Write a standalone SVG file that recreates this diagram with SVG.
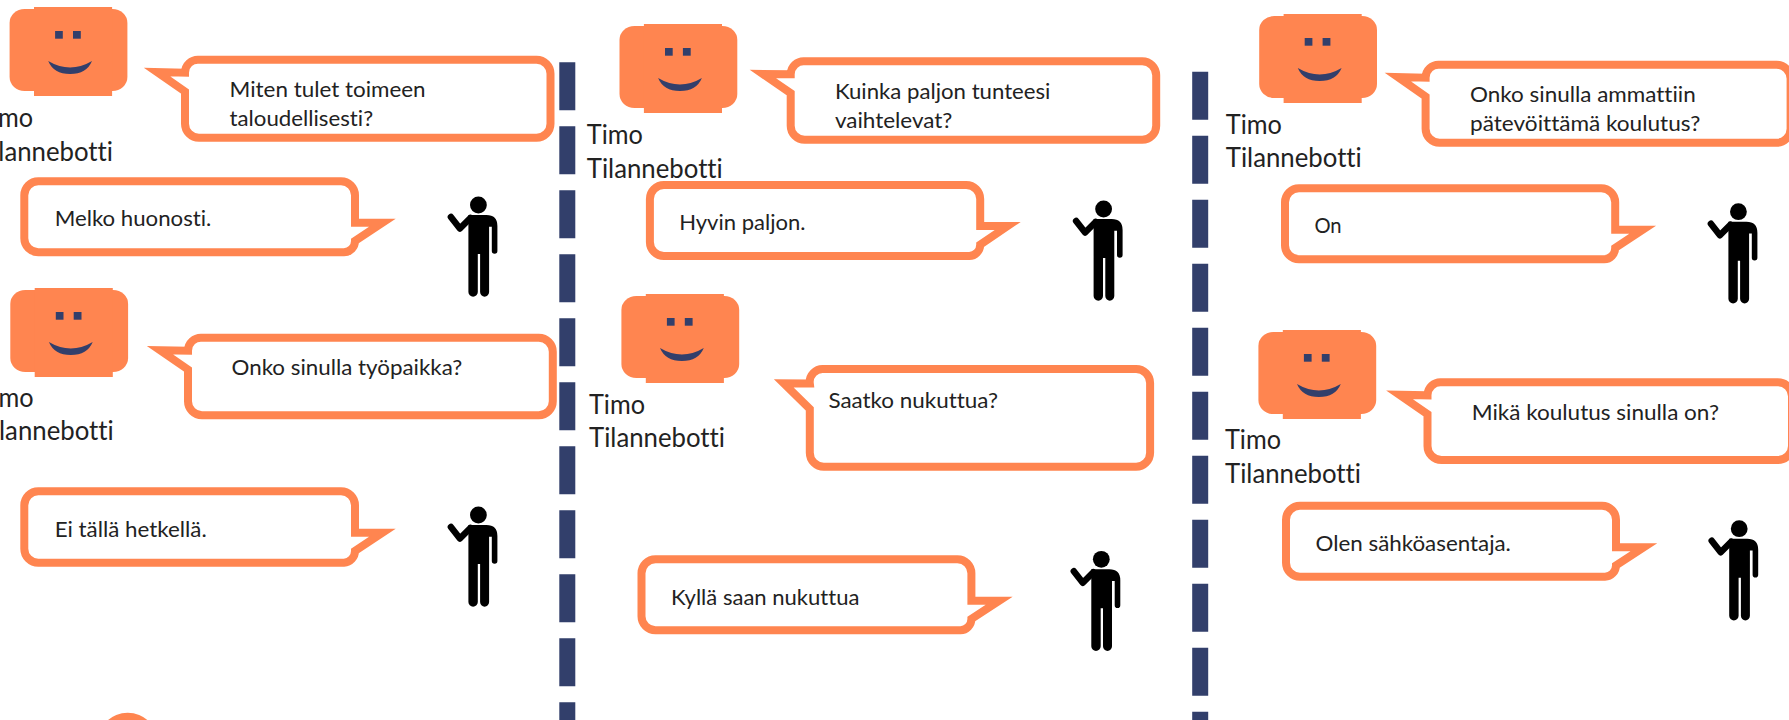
<svg xmlns="http://www.w3.org/2000/svg" width="1789" height="720" viewBox="0 0 1789 720">
<style>
text{font-family:"Lato","Open Sans","Liberation Sans",sans-serif;fill:#222;font-variant-ligatures:none}
.t{font-size:21.5px}
.n{font-size:26px}
.b{fill:#fff;stroke:#FF8550;stroke-width:8;stroke-linejoin:miter;stroke-miterlimit:12}
.d{stroke:#323F6B;stroke-width:16;stroke-dasharray:48 16;fill:none}
</style>
<defs>
<g id="bot">
<rect x="0" y="2" width="117.8" height="82" rx="15" ry="14" fill="#FF8550"/>
<rect x="24.4" y="0" width="78.1" height="89" fill="#FF8550"/>
<rect x="45.5" y="24" width="7.7" height="7.7" fill="#323F6B"/>
<rect x="63.4" y="24" width="7.8" height="7.7" fill="#323F6B"/>
<path d="M38.6 54Q60.5 67 82.4 54Q77 67 60.5 67Q44 67 38.6 54Z" fill="#323F6B"/>
</g>
<g id="person">
<circle cx="0" cy="0" r="8.4" fill="#000"/>
<path d="M-10 10H8Q19 10 19 21V46A2.8 2.8 0 0 1 13.4 46V21.7H10.7V87A4.5 4.7 0 0 1 1.7 87V49H-0.6V87A4.7 4.7 0 0 1 -10 87Z" fill="#000"/>
<polyline points="-27.5,12 -18.5,23.5 -8,13" fill="none" stroke="#000" stroke-width="6.5" stroke-linecap="round" stroke-linejoin="round"/>
</g>
</defs>
<rect width="1789" height="720" fill="#fff"/>
<g id="connectors">
<line class="d" x1="567.3" y1="62.3" x2="567.3" y2="720"/>
<line class="d" x1="1200.2" y1="71.7" x2="1200.2" y2="720"/>
</g>
<g id="bot-1"><use href="#bot" x="9.6" y="7"/><text class="n" x="-23" y="126.7" textLength="56" lengthAdjust="spacingAndGlyphs">Timo</text><text class="n" x="-23" y="161" textLength="136" lengthAdjust="spacingAndGlyphs">Tilannebotti</text></g>
<g id="bubble-1"><path class="b" d="M199 59.7H536.5A14 14 0 0 1 550.5 73.7V123.7A14 14 0 0 1 536.5 137.7H199A14 14 0 0 1 185 123.7V91.5L157 72L185 72.7A13 13 0 0 1 199 59.7Z"/><text class="t" x="229.6" y="96.7" textLength="196" lengthAdjust="spacingAndGlyphs">Miten tulet toimeen</text><text class="t" x="229.6" y="126" textLength="143.5" lengthAdjust="spacingAndGlyphs">taloudellisesti?</text></g>
<g id="bubble-2"><path class="b" d="M38.3 181.3H341A14 14 0 0 1 355 195.3V222.7H382.5L355 241A11.3 11.3 0 0 1 344 252.3H38.3A14 14 0 0 1 24.3 238.3V195.3A14 14 0 0 1 38.3 181.3Z"/><text class="t" x="54.7" y="226" textLength="156.6" lengthAdjust="spacingAndGlyphs">Melko huonosti.</text></g>
<g id="person-1"><use href="#person" x="478.4" y="205"/></g>
<g id="bot-2"><use href="#bot" x="10.3" y="288"/><text class="n" x="-22.3" y="406.7" textLength="56" lengthAdjust="spacingAndGlyphs">Timo</text><text class="n" x="-22.3" y="440" textLength="136" lengthAdjust="spacingAndGlyphs">Tilannebotti</text></g>
<g id="bubble-3"><path class="b" d="M202 337.7H538.8A14 14 0 0 1 552.8 351.7V401.3A14 14 0 0 1 538.8 415.3H202A14 14 0 0 1 188 401.3V369.5L160 350.3L188 350.7A13 13 0 0 1 202 337.7Z"/><text class="t" x="231.5" y="375" textLength="230.8" lengthAdjust="spacingAndGlyphs">Onko sinulla työpaikka?</text></g>
<g id="bubble-4"><path class="b" d="M38.3 491.3H341A14 14 0 0 1 355 505.3V532.7H382.5L355 551A11.7 11.7 0 0 1 344 562.7H38.3A14 14 0 0 1 24.3 548.7V505.3A14 14 0 0 1 38.3 491.3Z"/><text class="t" x="54.7" y="536.7" textLength="152" lengthAdjust="spacingAndGlyphs">Ei tällä hetkellä.</text></g>
<g id="person-2"><use href="#person" x="478.4" y="515"/></g>
<g id="bot-3"><circle cx="127.7" cy="742.7" r="30" fill="#FF8550"/></g>
<g id="bot-4"><use href="#bot" x="619.5" y="24"/><text class="n" x="586.8" y="144" textLength="56" lengthAdjust="spacingAndGlyphs">Timo</text><text class="n" x="586.8" y="177.7" textLength="136" lengthAdjust="spacingAndGlyphs">Tilannebotti</text></g>
<g id="bubble-5"><path class="b" d="M804.7 61.3H1142.2A14 14 0 0 1 1156.2 75.3V125.7A14 14 0 0 1 1142.2 139.7H804.7A14 14 0 0 1 790.7 125.7V93.1L762.8 74L790.7 74.3A13 13 0 0 1 804.7 61.3Z"/><text class="t" x="834.9" y="98.7" textLength="215.5" lengthAdjust="spacingAndGlyphs">Kuinka paljon tunteesi</text><text class="t" x="834.9" y="128" textLength="117.5" lengthAdjust="spacingAndGlyphs">vaihtelevat?</text></g>
<g id="bubble-6"><path class="b" d="M663.9 185H966.2A14 14 0 0 1 980.2 199V226H1007.7L980.2 244.7A11.3 11.3 0 0 1 969.2 256H663.9A14 14 0 0 1 649.9 242V199A14 14 0 0 1 663.9 185Z"/><text class="t" x="679.2" y="230" textLength="126.3" lengthAdjust="spacingAndGlyphs">Hyvin paljon.</text></g>
<g id="person-3"><use href="#person" x="1103.6" y="209"/></g>
<g id="bot-5"><use href="#bot" x="621.4" y="294"/><text class="n" x="589" y="414" textLength="56" lengthAdjust="spacingAndGlyphs">Timo</text><text class="n" x="589" y="446.7" textLength="136" lengthAdjust="spacingAndGlyphs">Tilannebotti</text></g>
<g id="bubble-7"><path class="b" d="M823.8 369H1136.1A14 14 0 0 1 1150.1 383V452.7A14 14 0 0 1 1136.1 466.7H823.8A14 14 0 0 1 809.8 452.7V409L783.7 383.3L809.8 383.5A13 13 0 0 1 823.8 369Z"/><text class="t" x="828.4" y="408.3" textLength="169.6" lengthAdjust="spacingAndGlyphs">Saatko nukuttua?</text></g>
<g id="bubble-8"><path class="b" d="M655.5 559.3H957.4A14 14 0 0 1 971.4 573.3V600.7H999.3L971.4 619A11.3 11.3 0 0 1 960.4 630.3H655.5A14 14 0 0 1 641.5 616.3V573.3A14 14 0 0 1 655.5 559.3Z"/><text class="t" x="671.1" y="605" textLength="188.3" lengthAdjust="spacingAndGlyphs">Kyllä saan nukuttua</text></g>
<g id="person-4"><use href="#person" x="1101.3" y="559.3"/></g>
<g id="bot-6"><use href="#bot" x="1259.2" y="14"/><text class="n" x="1225.8" y="134" textLength="56" lengthAdjust="spacingAndGlyphs">Timo</text><text class="n" x="1225.8" y="166.7" textLength="136" lengthAdjust="spacingAndGlyphs">Tilannebotti</text></g>
<g id="bubble-9"><path class="b" d="M1439.6 64.7H1776.6A14 14 0 0 1 1790.6 78.7V128.7A14 14 0 0 1 1776.6 142.7H1439.6A14 14 0 0 1 1425.6 128.7V96.5L1397.8 77L1425.6 77.7A13 13 0 0 1 1439.6 64.7Z"/><text class="t" x="1470.1" y="101.7" textLength="225.6" lengthAdjust="spacingAndGlyphs">Onko sinulla ammattiin</text><text class="t" x="1470.1" y="130.7" textLength="230.3" lengthAdjust="spacingAndGlyphs">pätevöittämä koulutus?</text></g>
<g id="bubble-10"><path class="b" d="M1299 188.3H1601.2A14 14 0 0 1 1615.2 202.3V229.7H1642.8L1615.2 248A11.3 11.3 0 0 1 1604.2 259.3H1299A14 14 0 0 1 1285 245.3V202.3A14 14 0 0 1 1299 188.3Z"/><text class="t" x="1314.4" y="232.7" textLength="27.2" lengthAdjust="spacingAndGlyphs">On</text></g>
<g id="person-5"><use href="#person" x="1738.4" y="211.7"/></g>
<g id="bot-7"><use href="#bot" x="1258.4" y="330"/><text class="n" x="1225" y="449.3" textLength="56" lengthAdjust="spacingAndGlyphs">Timo</text><text class="n" x="1225" y="482.7" textLength="136" lengthAdjust="spacingAndGlyphs">Tilannebotti</text></g>
<g id="bubble-11"><path class="b" d="M1441.5 382.3H1778A14 14 0 0 1 1792 396.3V446A14 14 0 0 1 1778 460H1441.5A14 14 0 0 1 1427.5 446V414.1L1399.4 394.7L1427.5 395.3A13 13 0 0 1 1441.5 382.3Z"/><text class="t" x="1471.7" y="420" textLength="247.3" lengthAdjust="spacingAndGlyphs">Mikä koulutus sinulla on?</text></g>
<g id="bubble-12"><path class="b" d="M1300 505.7H1602A14 14 0 0 1 1616 519.7V547.3H1643.8L1616 565.4A11.3 11.3 0 0 1 1605 576.7H1300A14 14 0 0 1 1286 562.7V519.7A14 14 0 0 1 1300 505.7Z"/><text class="t" x="1315.5" y="551" textLength="195.4" lengthAdjust="spacingAndGlyphs">Olen sähköasentaja.</text></g>
<g id="person-6"><use href="#person" x="1739.2" y="528.7"/></g>
</svg>
